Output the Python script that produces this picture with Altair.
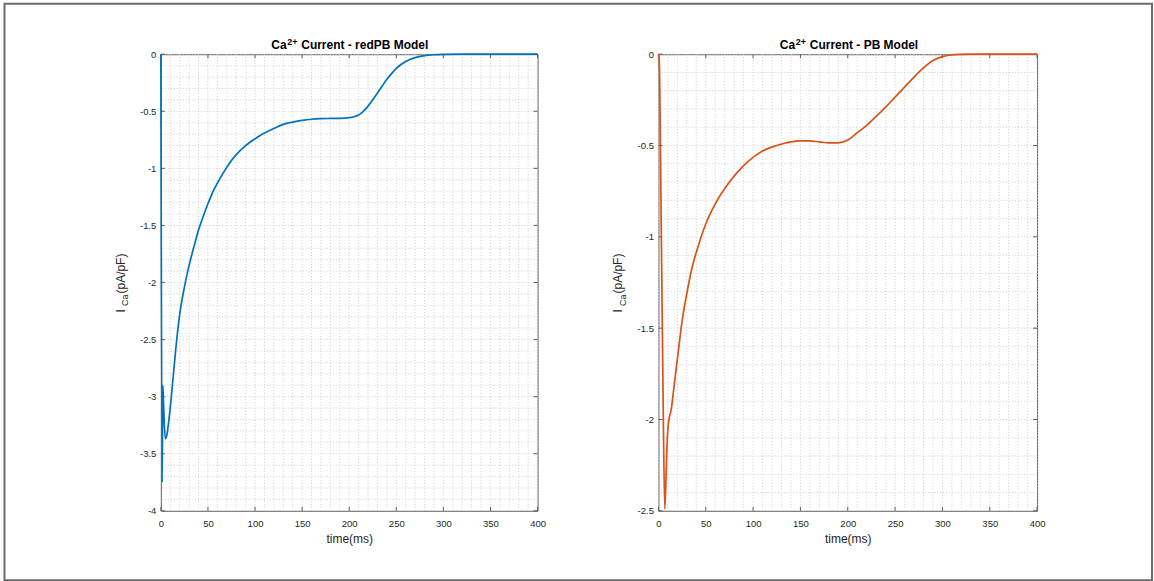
import altair as alt
import pandas as pd

# ---- traces (time in ms, current in pA/pF) ----
t_red = [0, 1.4, 2.1, 3.0, 4.8, 6, 8, 10.8, 13, 16,
         20, 25, 30, 35, 40, 45, 50, 55, 60, 70,
         80, 90, 100, 110, 120, 130, 140, 150, 160, 170,
         180, 190, 200, 205, 210, 215, 220, 225, 230, 235,
         240, 245, 250, 255, 260, 270, 280, 290, 300, 320,
         350, 400]
i_red = [0, -3.75, -2.9, -3.1, -3.37, -3.35, -3.24, -3.03, -2.83, -2.57,
         -2.28, -2.04, -1.85, -1.69, -1.54, -1.42, -1.31, -1.21, -1.13, -0.99,
         -0.88, -0.80, -0.74, -0.69, -0.65, -0.615, -0.595, -0.58, -0.57, -0.565,
         -0.563, -0.562, -0.556, -0.548, -0.532, -0.50, -0.455, -0.40, -0.34, -0.28,
         -0.22, -0.17, -0.125, -0.09, -0.063, -0.03, -0.013, -0.005, -0.002, 0,
         0, 0]

t_pb = [0, 0.8, 3, 5.3, 6.7, 8, 9, 10, 11.5, 13.4,
        16, 20, 25.6, 30, 35, 41.5, 50, 60, 75, 90,
        100, 110, 125, 140, 150, 160, 170, 180, 190, 200,
        210, 220, 230, 240, 250, 260, 270, 280, 290, 300,
        310, 320, 330, 400]
i_pb = [0, -0.03, -0.95, -2.05, -2.49, -2.32, -2.15, -2.05, -1.99, -1.95,
        -1.84, -1.67, -1.44, -1.31, -1.18, -1.06, -0.93, -0.82, -0.70, -0.61,
        -0.565, -0.53, -0.50, -0.48, -0.475, -0.475, -0.48, -0.485, -0.485, -0.47,
        -0.43, -0.39, -0.34, -0.29, -0.235, -0.18, -0.125, -0.075, -0.035, -0.013,
        -0.004, -0.001, 0, 0]

# ---- tick / grid positions ----
x_major = [0, 50, 100, 150, 200, 250, 300, 350, 400]
x_minor = list(range(0, 401, 10))
y_major_red = [0, -0.5, -1, -1.5, -2, -2.5, -3, -3.5, -4]
y_minor_red = [round(-0.1 * k, 1) for k in range(41)]
y_major_pb = [0, -0.5, -1, -1.5, -2, -2.5]
y_minor_pb = [round(-0.1 * k, 1) for k in range(26)]

FONT = "Liberation Sans"
TXT = "#262626"
BOX = "#5a5a5a"
GRID = "#cfcfcf"
H = 457
TICK = 4


def panel(t, cur, color, ymin, y_major, y_minor, rest, rest_w, W, frame):
    df = pd.DataFrame({"t": t, "i": cur})
    xs = alt.Scale(domain=[0, 400], nice=False, zero=False)
    ys = alt.Scale(domain=[ymin, 0], nice=False, zero=False)
    x_axis = alt.Axis(values=x_major, title="time(ms)", grid=False, ticks=False,
                      domain=False, labelPadding=8, titlePadding=5,
                      labelFlush=False, labelOverlap=False,
                      labelExpr="datum.value + ''")
    y_axis = alt.Axis(values=y_major, title=None, grid=False, ticks=False,
                      domain=False, labelPadding=5, labelFlush=False,
                      labelOverlap=False, labelExpr="datum.value + ''")

    def X(field):
        return alt.X(field, scale=xs, axis=x_axis)

    def Y(field):
        return alt.Y(field, scale=ys, axis=y_axis)

    one = pd.DataFrame({"k": [0]})
    layers = []
    if frame:
        # figure border around both panels
        layers.append(
            alt.Chart(one).mark_rect(fillOpacity=0, stroke="#6b6b6b", strokeWidth=2).encode(
                x=alt.value(-156.5), x2=alt.value(992),
                y=alt.value(-50.5), y2=alt.value(526.5))
        )

    grid_v = alt.Chart(pd.DataFrame({"g": x_minor})).mark_rule(
        color=GRID, strokeDash=[1, 2], strokeWidth=1).encode(x=X("g:Q"))
    grid_h = alt.Chart(pd.DataFrame({"g": y_minor})).mark_rule(
        color=GRID, strokeDash=[1, 2], strokeWidth=1).encode(y=Y("g:Q"))
    layers += [grid_v, grid_h]

    # inward tick marks on all four sides
    xt = alt.Chart(pd.DataFrame({"v": x_major}))
    yt = alt.Chart(pd.DataFrame({"v": y_major}))
    layers += [
        xt.mark_rule(color=BOX).encode(x=X("v:Q"), y=alt.value(H), y2=alt.value(H - TICK)),
        xt.mark_rule(color=BOX).encode(x=X("v:Q"), y=alt.value(0), y2=alt.value(TICK)),
        yt.mark_rule(color=BOX).encode(y=Y("v:Q"), x=alt.value(0), x2=alt.value(TICK)),
        yt.mark_rule(color=BOX).encode(y=Y("v:Q"), x=alt.value(W - TICK), x2=alt.value(W)),
    ]

    curve = alt.Chart(df).mark_line(color=color, strokeWidth=1.7, interpolate="monotone").encode(
        x=X("t:Q"), y=Y("i:Q"))
    layers.append(curve)

    # title: Ca^{2+} Current - ...
    start = W / 2 - (30 + rest_w) / 2
    base = alt.Chart(one)
    layers += [
        base.mark_text(text="Ca", font=FONT, fontSize=12, fontWeight="bold", color="#000",
                       align="left", baseline="alphabetic").encode(
            x=alt.value(start), y=alt.value(-5.2)),
        base.mark_text(text="2+", font=FONT, fontSize=9, fontWeight="bold", color="#000",
                       align="left", baseline="alphabetic").encode(
            x=alt.value(start + 16), y=alt.value(-9.2)),
        base.mark_text(text=rest, font=FONT, fontSize=12, fontWeight="bold", color="#000",
                       align="left", baseline="alphabetic").encode(
            x=alt.value(start + 30), y=alt.value(-5.2)),
    ]

    # y label: I_{Ca}(pA/pF), rotated
    yx = -36
    layers += [
        base.mark_text(text="I", font=FONT, fontSize=12, color=TXT, angle=270,
                       align="left", baseline="alphabetic").encode(
            x=alt.value(yx), y=alt.value(258.5)),
        base.mark_text(text="Ca", font=FONT, fontSize=9, color=TXT, angle=270,
                       align="left", baseline="alphabetic").encode(
            x=alt.value(yx + 3.5), y=alt.value(252)),
        base.mark_text(text="(pA/pF)", font=FONT, fontSize=12, color=TXT, angle=270,
                       align="left", baseline="alphabetic").encode(
            x=alt.value(yx), y=alt.value(239.5)),
    ]

    return alt.layer(*layers).properties(width=W, height=H)


left = panel(t_red, i_red, "#0072BD", -4, y_major_red, y_minor_red,
             "Current - redPB Model", 126, 377, True)
right = panel(t_pb, i_pb, "#D95319", -2.5, y_major_pb, y_minor_pb,
              "Current - PB Model", 106, 379, False)

chart = alt.hconcat(left, right, spacing=121, bounds="flush").properties(
    padding={"left": 3, "top": 2, "right": 0, "bottom": 0},
    background="white",
).configure_view(
    stroke=BOX, strokeWidth=1
).configure_axis(
    labelFont=FONT, labelFontSize=9.5, labelColor=TXT,
    titleFont=FONT, titleFontSize=12, titleFontWeight="normal", titleColor=TXT,
)

chart.save("out.html", embed_options={"renderer": "svg", "actions": False})
